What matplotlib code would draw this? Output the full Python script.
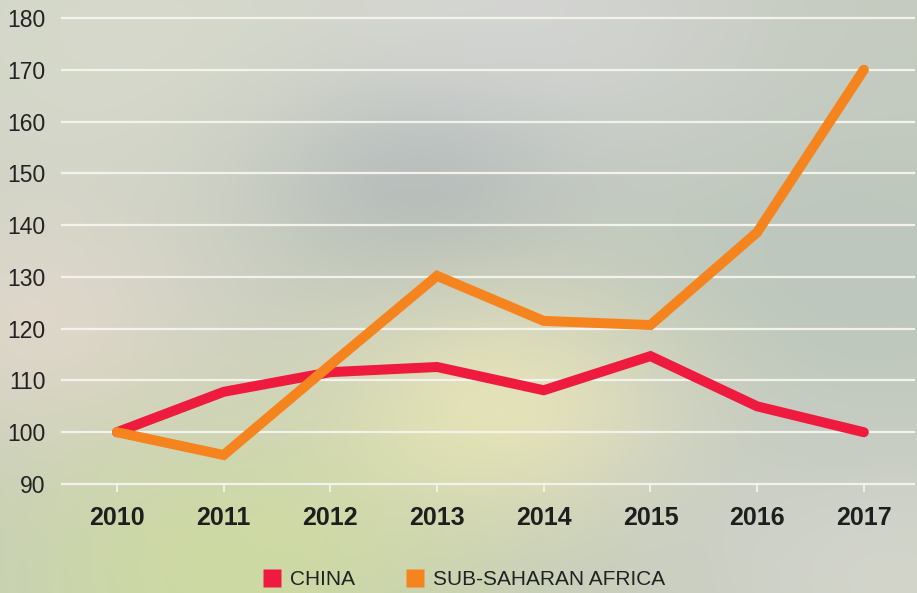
import numpy as np
import matplotlib
matplotlib.use("Agg")
from matplotlib import pyplot as plt
from matplotlib.colors import to_rgb
from matplotlib.lines import Line2D

years = [2010, 2011, 2012, 2013, 2014, 2015, 2016, 2017]
china = [100.0, 107.8, 111.6, 112.6, 108.1, 114.7, 105.0, 100.0]
africa = [100.0, 95.6, 113.0, 130.2, 121.5, 120.7, 138.6, 170.0]
yticks = [90, 100, 110, 120, 130, 140, 150, 160, 170, 180]
names = ["CHINA", "SUB-SAHARAN AFRICA"]

red = "#ee1b3f"
orange = "#f5841f"

plt.rcParams['font.family'] = ['Liberation Sans', 'DejaVu Sans']

fig = plt.figure(figsize=(9.17, 5.93), dpi=100)

# blurred photo-like background
W, H = 460, 300
gx, gy = np.meshgrid(np.linspace(0, 1, W), np.linspace(0, 1, H))
base = np.array(to_rgb("#c5cbbf"))
img = np.ones((H, W, 3)) * base
blobs = [
    (0.10, 0.05, 0.25, "#d7dacb", 0.9),
    (0.03, 0.55, 0.15, "#ddd5cb", 0.9),
    (0.45, 0.30, 0.12, "#afb8b5", 0.9),
    (0.58, 0.03, 0.18, "#d3d4d2", 0.9),
    (0.56, 0.68, 0.14, "#e7e3bb", 0.9),
    (0.25, 0.97, 0.20, "#cedba0", 0.9),
    (0.90, 0.45, 0.18, "#b9c5bc", 0.7),
    (0.97, 0.97, 0.15, "#d6d7cd", 0.8),
    (0.80, 0.80, 0.12, "#c3c9c4", 0.6),
]
for bx, by, s, c, a in blobs:
    w = a * np.exp(-((gx - bx) ** 2 + (gy - by) ** 2) / (2 * s ** 2))
    img += w[..., None] * (np.array(to_rgb(c)) - base)
img = np.clip(img, 0, 1)
bg = fig.add_axes([0, 0, 1, 1], zorder=-10)
bg.imshow(img, aspect="auto", extent=[0, 1, 0, 1], interpolation="bicubic")
bg.axis("off")

ax = fig.add_axes([62 / 917, 109 / 593, 852 / 917, 470 / 593])
ax.set_facecolor("none")
ax.plot(years, china, color=red, lw=7.2, solid_capstyle="round",
        solid_joinstyle="miter", zorder=3)
ax.plot(years, africa, color=orange, lw=7.2, solid_capstyle="round",
        solid_joinstyle="miter", zorder=4)

ax.set_xlim(2009.485, 2017.47)
ax.set_ylim(90, 90 + 470 / 5.178)
ax.set_yticks(yticks)
ax.set_xticks(years)
ax.set_xticklabels([str(y) for y in years], fontsize=18, fontweight="bold",
                   color="#1e1e1e")
ax.set_yticklabels([str(v) for v in yticks], fontsize=16.5, color="#222222")
for v in yticks:
    ax.axhline(v, color="#f4f2ec", lw=1.6, zorder=1, clip_on=False)
for s in ax.spines.values():
    s.set_visible(False)
ax.tick_params(axis="x", direction="out", length=6, width=1.3,
               color="#f4f2ec", pad=10)
ax.tick_params(axis="y", length=0, pad=12)

handles = [Line2D([], [], ls="none", marker="s", markersize=13.5,
                  markerfacecolor=red, markeredgecolor="none"),
           Line2D([], [], ls="none", marker="s", markersize=13.5,
                  markerfacecolor=orange, markeredgecolor="none")]
fig.legend(handles, names, loc="center", bbox_to_anchor=(0.505, 0.022),
           ncol=2, frameon=False, fontsize=15, handlelength=1.0,
           handletextpad=0.35, columnspacing=2.4, labelcolor="#222222")

fig.savefig("out.png", dpi=100)
